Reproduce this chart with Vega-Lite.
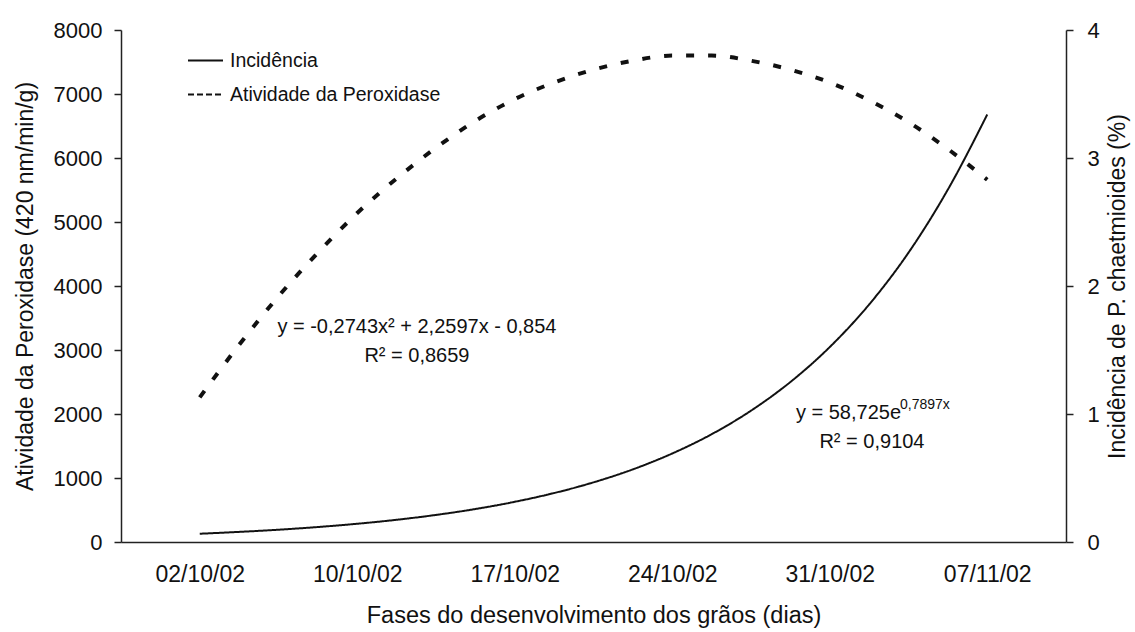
{
  "$schema": "https://vega.github.io/schema/vega-lite/v6.json",
  "width": 945,
  "height": 512,
  "autosize": {"type": "none"},
  "padding": {"left": 121, "top": 30, "right": 69, "bottom": 90},
  "background": "white",
  "config": {
    "view": {"stroke": null},
    "font": "Liberation Sans",
    "axis": {
      "grid": false,
      "domainColor": "#222",
      "domainWidth": 1.5,
      "tickColor": "#222",
      "tickWidth": 1.5,
      "labelColor": "#111",
      "titleColor": "#111",
      "labelFont": "Liberation Sans",
      "titleFont": "Liberation Sans",
      "titleFontWeight": "normal"
    },
    "legend": {"labelFont": "Liberation Sans", "labelColor": "#111"}
  },
  "datasets": {
    "incid": [
      {"x": 1, "valor": 129, "serie": "Incidência"},
      {"x": 1.25, "valor": 158, "serie": "Incidência"},
      {"x": 1.5, "valor": 192, "serie": "Incidência"},
      {"x": 1.75, "valor": 234, "serie": "Incidência"},
      {"x": 2, "valor": 285, "serie": "Incidência"},
      {"x": 2.25, "valor": 347, "serie": "Incidência"},
      {"x": 2.5, "valor": 423, "serie": "Incidência"},
      {"x": 2.75, "valor": 515, "serie": "Incidência"},
      {"x": 3, "valor": 628, "serie": "Incidência"},
      {"x": 3.25, "valor": 765, "serie": "Incidência"},
      {"x": 3.5, "valor": 932, "serie": "Incidência"},
      {"x": 3.75, "valor": 1135, "serie": "Incidência"},
      {"x": 4, "valor": 1383, "serie": "Incidência"},
      {"x": 4.25, "valor": 1684, "serie": "Incidência"},
      {"x": 4.5, "valor": 2052, "serie": "Incidência"},
      {"x": 4.75, "valor": 2500, "serie": "Incidência"},
      {"x": 5, "valor": 3046, "serie": "Incidência"},
      {"x": 5.25, "valor": 3711, "serie": "Incidência"},
      {"x": 5.5, "valor": 4521, "serie": "Incidência"},
      {"x": 5.75, "valor": 5507, "serie": "Incidência"},
      {"x": 6, "valor": 6680, "serie": "Incidência"}
    ],
    "perox": [
      {"x": 1, "pct": 1.13, "serie": "Atividade da Peroxidase"},
      {"x": 1.25, "pct": 1.54, "serie": "Atividade da Peroxidase"},
      {"x": 1.5, "pct": 1.92, "serie": "Atividade da Peroxidase"},
      {"x": 1.75, "pct": 2.26, "serie": "Atividade da Peroxidase"},
      {"x": 2, "pct": 2.57, "serie": "Atividade da Peroxidase"},
      {"x": 2.25, "pct": 2.84, "serie": "Atividade da Peroxidase"},
      {"x": 2.5, "pct": 3.08, "serie": "Atividade da Peroxidase"},
      {"x": 2.75, "pct": 3.29, "serie": "Atividade da Peroxidase"},
      {"x": 3, "pct": 3.46, "serie": "Atividade da Peroxidase"},
      {"x": 3.25, "pct": 3.59, "serie": "Atividade da Peroxidase"},
      {"x": 3.5, "pct": 3.69, "serie": "Atividade da Peroxidase"},
      {"x": 3.75, "pct": 3.76, "serie": "Atividade da Peroxidase"},
      {"x": 4, "pct": 3.80, "serie": "Atividade da Peroxidase"},
      {"x": 4.25, "pct": 3.80, "serie": "Atividade da Peroxidase"},
      {"x": 4.5, "pct": 3.76, "serie": "Atividade da Peroxidase"},
      {"x": 4.75, "pct": 3.69, "serie": "Atividade da Peroxidase"},
      {"x": 5, "pct": 3.59, "serie": "Atividade da Peroxidase"},
      {"x": 5.25, "pct": 3.45, "serie": "Atividade da Peroxidase"},
      {"x": 5.5, "pct": 3.28, "serie": "Atividade da Peroxidase"},
      {"x": 5.75, "pct": 3.07, "serie": "Atividade da Peroxidase"},
      {"x": 6, "pct": 2.83, "serie": "Atividade da Peroxidase"}
    ],
    "notes": [
      {"x": 2.379, "y": 3359, "label": "y = -0,2743x² + 2,2597x - 0,854"},
      {"x": 2.379, "y": 2906, "label": "R² = 0,8659"},
      {"x": 5.119, "y": 2016, "label": "y = 58,725e"},
      {"x": 5.268, "y": 1563, "label": "R² = 0,9104"}
    ],
    "sup": [
      {"x": 5.446, "y": 2141, "label": "0,7897x"}
    ]
  },
  "layer": [
    {
      "data": {"name": "incid"},
      "mark": {"type": "line", "color": "#111", "strokeWidth": 2, "interpolate": "monotone"},
      "encoding": {
        "x": {
          "field": "x", "type": "quantitative",
          "scale": {"domain": [0.5, 6.5], "nice": false, "zero": false},
          "axis": {
            "values": [1, 2, 3, 4, 5, 6],
            "labelExpr": "['02/10/02','10/10/02','17/10/02','24/10/02','31/10/02','07/11/02'][datum.value-1]",
            "ticks": false,
            "labelFontSize": 23,
            "labelPadding": 21,
            "title": "Fases do desenvolvimento dos grãos (dias)",
            "titleFontSize": 23.5,
            "titlePadding": 17
          }
        },
        "y": {
          "field": "valor", "type": "quantitative",
          "scale": {"domain": [0, 8000], "nice": false},
          "axis": {
            "values": [0, 1000, 2000, 3000, 4000, 5000, 6000, 7000, 8000],
            "format": "d",
            "tickSize": 7,
            "labelFontSize": 22,
            "labelPadding": 12,
            "title": "Atividade da Peroxidase (420 nm/min/g)",
            "titleFontSize": 23,
            "titlePadding": 16
          }
        },
        "strokeDash": {
          "field": "serie", "type": "nominal",
          "scale": {"domain": ["Incidência", "Atividade da Peroxidase"], "range": [[1, 0], [6, 3]]},
          "legend": {
            "orient": "none",
            "legendX": 66,
            "legendY": 12,
            "title": null,
            "labelFontSize": 19.5,
            "labelLimit": 500,
            "symbolType": "stroke",
            "symbolSize": 1225,
            "symbolStrokeColor": "#111",
            "symbolStrokeWidth": 2,
            "rowPadding": 6,
            "labelOffset": 6
          }
        }
      }
    },
    {
      "data": {"name": "perox"},
      "mark": {"type": "line", "color": "#111", "strokeWidth": 4, "interpolate": "monotone", "strokeDash": [8, 14]},
      "encoding": {
        "x": {"field": "x", "type": "quantitative", "scale": {"domain": [0.5, 6.5], "nice": false, "zero": false}},
        "y": {
          "field": "pct", "type": "quantitative",
          "scale": {"domain": [0, 4], "nice": false},
          "axis": {
            "orient": "right",
            "values": [0, 1, 2, 3, 4],
            "tickSize": 7,
            "labelFontSize": 22,
            "labelPadding": 14,
            "title": "Incidência de P. chaetmioides  (%)",
            "titleFontSize": 23,
            "titleAngle": 270,
            "titleBaseline": "top",
            "titlePadding": 7
          }
        }
      }
    },
    {
      "data": {"name": "notes"},
      "mark": {"type": "text", "fontSize": 20, "color": "#111", "align": "center", "baseline": "middle", "font": "Liberation Sans"},
      "encoding": {
        "x": {"field": "x", "type": "quantitative", "scale": {"domain": [0.5, 6.5], "nice": false, "zero": false}},
        "y": {"field": "y", "type": "quantitative", "scale": {"domain": [0, 8000], "nice": false}, "axis": null},
        "text": {"field": "label"}
      }
    },
    {
      "data": {"name": "sup"},
      "mark": {"type": "text", "fontSize": 14, "color": "#111", "align": "left", "baseline": "middle", "font": "Liberation Sans"},
      "encoding": {
        "x": {"field": "x", "type": "quantitative", "scale": {"domain": [0.5, 6.5], "nice": false, "zero": false}},
        "y": {"field": "y", "type": "quantitative", "scale": {"domain": [0, 8000], "nice": false}, "axis": null},
        "text": {"field": "label"}
      }
    }
  ],
  "resolve": {"scale": {"y": "independent"}}
}
